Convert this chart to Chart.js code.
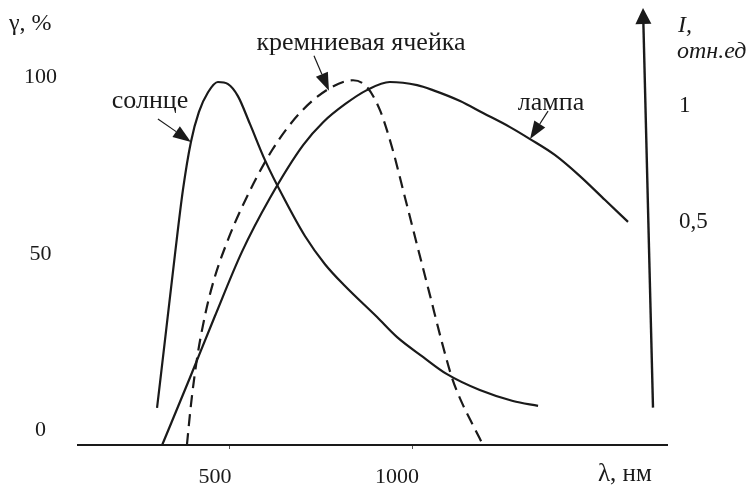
<!DOCTYPE html>
<html><head><meta charset="utf-8">
<script src="https://cdn.jsdelivr.net/npm/chart.js@4"></script>
<style>html,body{margin:0;padding:0;background:#fff}#wrap{width:750px;height:490px;position:relative}</style>
</head><body><div id="wrap"><canvas id="c"></canvas></div>
<script>
// ---- data ----
const xTicks = [500, 1000];
const yTicksLeft = [0, 50, 100];
const yTicksRight = [0.5, 1];

const sunNm  = [300, 325, 349, 371, 393, 415, 440, 467, 495, 522, 555, 596, 651, 706, 761, 816, 904, 959, 1030, 1096, 1186, 1277, 1346];
const sunPct = [10.5, 32.6, 53.9, 72.3, 86, 94.5, 100.1, 103, 102.4, 99, 91.1, 80.9, 69.5, 59.3, 51.3, 45.1, 36.3, 30.6, 25, 20.1, 15.6, 12.5, 11.1];

const siNm  = [382, 393, 410, 432, 456, 489, 536, 616, 692, 775, 838, 876, 912, 945, 981, 1014, 1049, 1082, 1110, 1140, 1167, 1195];
const siPct = [0, 11.3, 24.7, 36.9, 46.8, 56.7, 68.1, 83.7, 94.2, 101.3, 103.5, 101.6, 95, 84.5, 70.1, 56.7, 42.6, 29.2, 19, 11.3, 5.7, 0];

const lampNm  = [314, 390, 459, 533, 610, 701, 756, 816, 876, 939, 1014, 1057, 1132, 1195, 1269, 1324, 1392, 1461, 1530, 1593];
const lampPct = [0, 19, 36.6, 54.8, 70.1, 85.1, 91.6, 96.7, 100.7, 103, 102.1, 100.7, 97.6, 94.2, 90.2, 86.8, 82.3, 76.3, 69.5, 63.3];

const labels = { yLeft: 'γ, %', x: 'λ, нм', yRight1: 'I,', yRight2: 'отн.ед', sun: 'солнце', si: 'кремниевая ячейка', lamp: 'лампа' };

// ---- helpers ----
const pts = (xs, ys) => xs.map((x, i) => ({ x, y: ys[i] }));
const SERIF = '"Liberation Serif", "DejaVu Serif", serif';
const INK = '#1a1a1a';

function arrow(ctx, x0, y0, x1, y1, len, w, lw) {
  const a = Math.atan2(y1 - y0, x1 - x0);
  const bx = x1 - len * Math.cos(a), by = y1 - len * Math.sin(a);
  ctx.save();
  ctx.strokeStyle = INK; ctx.fillStyle = INK; ctx.lineWidth = lw;
  ctx.beginPath(); ctx.moveTo(x0, y0); ctx.lineTo(bx, by); ctx.stroke();
  ctx.beginPath();
  ctx.moveTo(x1, y1);
  ctx.lineTo(bx + (w / 2) * Math.sin(a), by - (w / 2) * Math.cos(a));
  ctx.lineTo(bx - (w / 2) * Math.sin(a), by + (w / 2) * Math.cos(a));
  ctx.closePath(); ctx.fill();
  ctx.restore();
}

const decor = {
  id: 'decor',
  afterDraw(chart) {
    const { ctx, chartArea: ca, scales } = chart;
    const X = v => scales.x.getPixelForValue(v), Y = v => scales.y.getPixelForValue(v), R = v => scales.y1.getPixelForValue(v);
    ctx.save();
    ctx.fillStyle = INK;
    ctx.textBaseline = 'middle';
    ctx.textAlign = 'left';
    ctx.font = '24px ' + SERIF;
    ctx.fillText(labels.yLeft, 9, 24);
    ctx.font = '25px ' + SERIF;
    ctx.fillText(labels.x, 598, 474);
    ctx.textAlign = 'center';
    ctx.font = '26px ' + SERIF;
    ctx.fillText(labels.sun, 150, 101);
    ctx.fillText(labels.si, 361, 43);
    ctx.fillText(labels.lamp, 551, 103);
    ctx.textAlign = 'left';
    ctx.font = 'italic 24px ' + SERIF;
    ctx.fillText(labels.yRight1, 678, 26);
    ctx.fillText(labels.yRight2, 677, 52);
    ctx.restore();

    // annotation arrows (tips on the curves)
    let tx = X(393), ty = Y(86);
    arrow(ctx, tx - 33, ty - 23, tx, ty, 18, 13, 1.2);
    tx = X(772); ty = Y(100.5);
    arrow(ctx, tx - 15, ty - 35, tx, ty, 18, 13, 1.2);
    tx = X(1324); ty = Y(86.8);
    arrow(ctx, tx + 18, ty - 28, tx, ty, 18, 13, 1.2);

    // right axis arrow
    arrow(ctx, ca.right - 14, R(-0.3), ca.right - 24, ca.top, 16, 16, 2.4);
  }
};

const tickFont = { family: SERIF, size: 22 };
const noPad = s => { s.paddingTop = 0; s.paddingBottom = 0; };

new Chart(document.getElementById('c'), {
  type: 'line',
  data: {
    datasets: [
      { label: labels.sun, data: pts(sunNm, sunPct), yAxisID: 'y' },
      { label: labels.si, data: pts(siNm, siPct), yAxisID: 'y', borderDash: [12, 7] },
      { label: labels.lamp, data: pts(lampNm, lampPct), yAxisID: 'y' }
    ].map(d => Object.assign({ borderColor: INK, borderWidth: 2.2, pointRadius: 0, fill: false, tension: 0.4, cubicInterpolationMode: 'monotone', clip: 10 }, d))
  },
  options: {
    responsive: true, maintainAspectRatio: false, animation: false,
    layout: { padding: { top: 8, left: 0, right: 0, bottom: 0 } },
    plugins: { legend: { display: false }, tooltip: { enabled: false }, title: { display: false } },
    scales: {
      x: {
        type: 'linear', min: 83, max: 1700,
        afterBuildTicks: s => { s.ticks = xTicks.map(v => ({ value: v })); },
        afterFit: s => { s.height = 45; s.paddingLeft = 0; s.paddingRight = 0; },
        border: { display: true, color: INK, width: 2 },
        grid: { display: true, drawOnChartArea: false, drawTicks: true, tickLength: 4, color: '#555', lineWidth: 1 },
        ticks: { font: tickFont, color: INK, labelOffset: -15, padding: 15, maxRotation: 0, autoSkip: false, callback: v => String(v) }
      },
      y: {
        position: 'left', min: 0, max: 124,
        afterBuildTicks: s => { s.ticks = yTicksLeft.map(v => ({ value: v })); },
        afterFit: s => { s.width = 78; noPad(s); },
        border: { display: false }, grid: { display: false },
        ticks: { font: tickFont, color: INK, labelOffset: -15, crossAlign: 'center', padding: 13 }
      },
      y1: {
        position: 'right', min: -0.461, max: 1.422,
        afterBuildTicks: s => { s.ticks = yTicksRight.map(v => ({ value: v })); },
        afterFit: s => { s.width = 83; noPad(s); },
        border: { display: false }, grid: { display: false },
        ticks: { font: { family: SERIF, size: 23 }, color: INK, padding: 4, callback: v => String(v).replace('.', ',') }
      }
    }
  },
  plugins: [decor]
});
</script>
</body></html>
